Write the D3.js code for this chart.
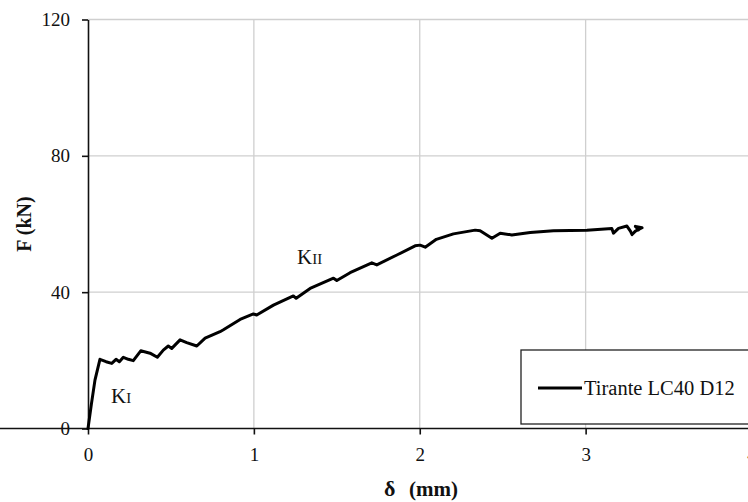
<!DOCTYPE html>
<html>
<head>
<meta charset="utf-8">
<script src="https://cdn.jsdelivr.net/npm/d3@7"></script>
<style>
  html, body { margin: 0; padding: 0; background: #fff; overflow: hidden; }
  svg { display: block; }
  text { font-family: "Liberation Serif", "Times New Roman", serif; fill: #111; }
</style>
</head>
<body>
<svg id="chart" width="748" height="502"></svg>
<script>
// Load–displacement curve of the tie specimen
const deltaMm = [0, 0.02, 0.042, 0.072, 0.109, 0.143, 0.169, 0.189, 0.213, 0.243, 0.273,
  0.318, 0.374, 0.418, 0.454, 0.484, 0.505, 0.555, 0.595, 0.656, 0.706, 0.796, 0.814,
  0.917, 0.997, 1.017, 1.118, 1.238, 1.255, 1.339, 1.48, 1.5, 1.58, 1.711, 1.741, 1.862,
  1.972, 2.002, 2.033, 2.1, 2.203, 2.334, 2.364, 2.435, 2.485, 2.555, 2.666, 2.806,
  3.008, 3.158, 3.168, 3.198, 3.249, 3.27, 3.28, 3.3, 3.34, 3.3, 3.32];
const forceKN = [0, 7, 14.2, 20.3, 19.6, 19.1, 20.3, 19.6, 20.9, 20.3, 19.9,
  22.8, 22.1, 20.9, 23.0, 24.2, 23.5, 26.0, 25.2, 24.2, 26.5, 28.4, 28.9,
  32.0, 33.6, 33.3, 36.2, 38.9, 38.2, 41.1, 44.1, 43.4, 45.7, 48.6, 48.0, 50.9,
  53.6, 53.8, 53.2, 55.5, 57.1, 58.2, 58.0, 55.8, 57.3, 56.8, 57.5, 58.0,
  58.2, 58.7, 57.3, 58.7, 59.4, 57.9, 56.9, 57.9, 58.9, 59.3, 58.3];

const xTicks = [0, 1, 2, 3, 4];
const yTicks = [0, 40, 80, 120];
const seriesName = "Tirante LC40 D12";

const svg = d3.select("#chart");
const x = d3.scaleLinear().domain([0, 4]).range([88, 751.5]);
const y = d3.scaleLinear().domain([0, 120]).range([428.5, 19.5]);

// grid
svg.append("g").selectAll("line").data(xTicks.filter(d => d > 0)).join("line")
  .attr("x1", d => x(d)).attr("x2", d => x(d))
  .attr("y1", y(120)).attr("y2", y(0))
  .attr("stroke", "#cfcfcf").attr("stroke-width", 1.3);
svg.append("g").selectAll("line").data(yTicks.filter(d => d > 0)).join("line")
  .attr("x1", x(0)).attr("x2", 748)
  .attr("y1", d => y(d)).attr("y2", d => y(d))
  .attr("stroke", "#cfcfcf").attr("stroke-width", 1.3);

// axes
const xAxis = svg.append("g").attr("transform", `translate(0,${y(0)})`)
  .call(d3.axisBottom(x).tickValues(xTicks).tickFormat(d3.format("d"))
    .tickSize(6).tickPadding(13).tickSizeOuter(0));
const yAxis = svg.append("g").attr("transform", `translate(${x(0)},0)`)
  .call(d3.axisLeft(y).tickValues(yTicks).tickFormat(d3.format("d"))
    .tickSize(6).tickPadding(12).tickSizeOuter(0));
[xAxis, yAxis].forEach(g => {
  g.select(".domain").attr("stroke", "#111").attr("stroke-width", 1.6);
  g.selectAll(".tick line").attr("stroke", "#111").attr("stroke-width", 1.6);
  g.selectAll(".tick text").attr("font-family", "Liberation Serif, serif")
    .attr("font-size", 19).attr("fill", "#111");
});
xAxis.select(".domain").attr("d", `M0,0H748`);

// curve
const line = d3.line().x((d, i) => x(deltaMm[i])).y((d, i) => y(forceKN[i]));
svg.append("path").datum(forceKN)
  .attr("d", line)
  .attr("fill", "none").attr("stroke", "#000")
  .attr("stroke-width", 3).attr("stroke-linejoin", "round").attr("stroke-linecap", "round");

// stiffness labels
function stiffLabel(px, py, sub) {
  const t = svg.append("text").attr("x", px).attr("y", py);
  t.append("tspan").attr("font-size", 21).text("K");
  t.append("tspan").attr("font-size", 15).text(sub);
}
stiffLabel(111, 403, "I");
stiffLabel(297, 264, "II");

// legend
const lg = svg.append("g");
lg.append("rect").attr("x", 521).attr("y", 350).attr("width", 240).attr("height", 74)
  .attr("fill", "#fff").attr("stroke", "#222").attr("stroke-width", 1.3);
lg.append("line").attr("x1", 538).attr("x2", 582).attr("y1", 388).attr("y2", 388)
  .attr("stroke", "#000").attr("stroke-width", 3);
lg.append("text").attr("x", 584).attr("y", 395).attr("font-size", 20.5).text(seriesName);

// axis titles
svg.append("text")
  .attr("transform", `translate(31,224) rotate(-90)`)
  .attr("text-anchor", "middle").attr("font-weight", "bold").attr("font-size", 20)
  .text("F (kN)");
const xt = svg.append("text").attr("x", 384).attr("y", 496).attr("font-weight", "bold");
xt.append("tspan").attr("font-size", 22).text("δ");
xt.append("tspan").attr("x", 409).attr("font-size", 21).text("(mm)");
</script>
</body>
</html>
